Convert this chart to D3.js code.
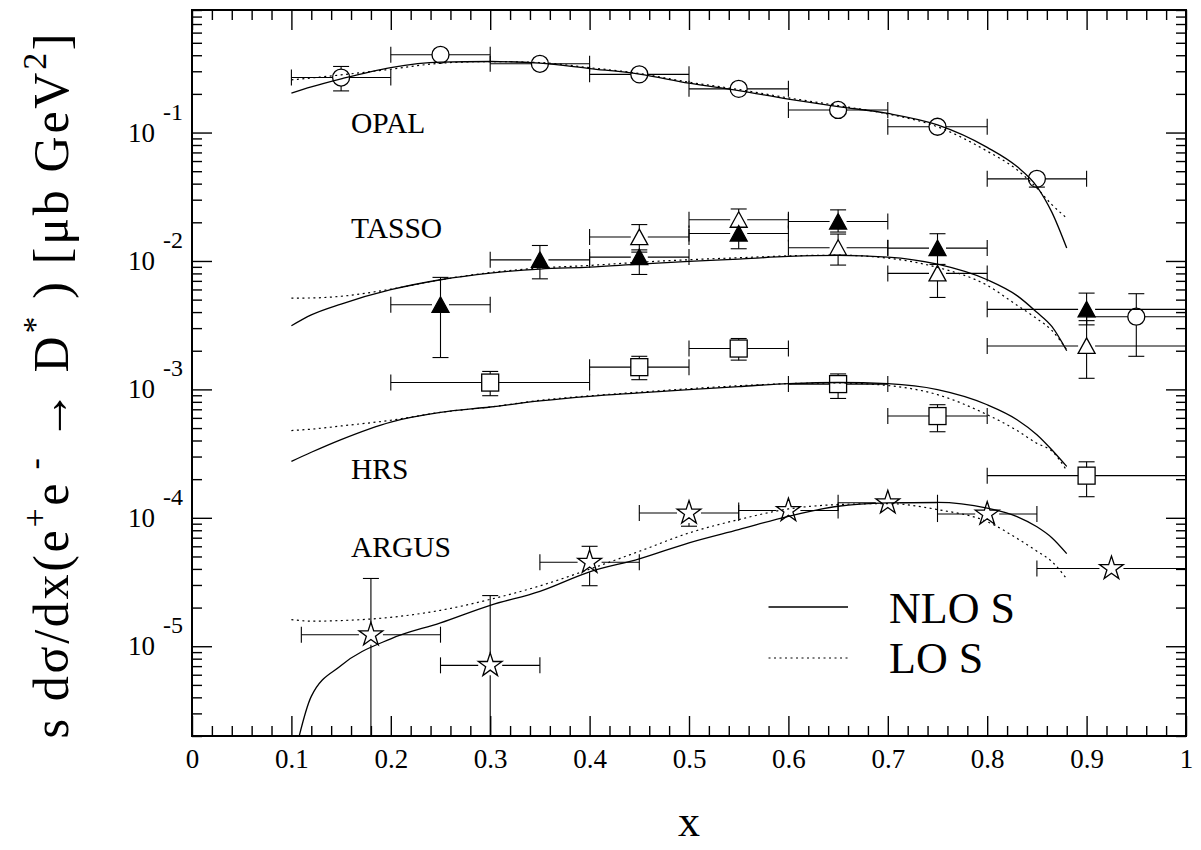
<!DOCTYPE html>
<html>
<head>
<meta charset="utf-8">
<script src="https://cdn.jsdelivr.net/npm/d3@7"></script>
<style>
  body { margin: 0; background: #fff; }
  text { font-family: "Liberation Serif", "Times New Roman", serif; fill: #000; }
</style>
</head>
<body>
<svg id="chart" width="1201" height="850"></svg>
<script>
// theory curves, sampled in x
var curveX   = [0.10, 0.12, 0.15, 0.20, 0.25, 0.30, 0.35, 0.40, 0.45, 0.50, 0.55, 0.60, 0.65, 0.70, 0.75, 0.80, 0.83, 0.85, 0.865, 0.88];
var opalNLO  = [0.2028, 0.2265, 0.2618, 0.3206, 0.3532, 0.3573, 0.3467, 0.3148, 0.2851, 0.2421, 0.2123, 0.1820, 0.1592, 0.1409, 0.1148, 0.0767, 0.0543, 0.0380, 0.0240, 0.0126];
var opalLO   = [0.2570, 0.2661, 0.2812, 0.3112, 0.3467, 0.3573, 0.3508, 0.3199, 0.2884, 0.2466, 0.2163, 0.1862, 0.1622, 0.1396, 0.1109, 0.0716, 0.0513, 0.0369, 0.0275, 0.0216];
var tassoNLO = [0.00313, 0.00380, 0.00462, 0.00597, 0.00714, 0.00805, 0.00865, 0.00895, 0.00944, 0.00991, 0.01035, 0.01084, 0.01104, 0.01072, 0.00944, 0.00714, 0.00537, 0.00398, 0.00309, 0.00200];
var tassoLO  = [0.00514, 0.00515, 0.00531, 0.00603, 0.00714, 0.00813, 0.00881, 0.00923, 0.00977, 0.01023, 0.01059, 0.01096, 0.01109, 0.01052, 0.00891, 0.00646, 0.00452, 0.00355, 0.00288, 0.00204];
var hrsNLO   = [0.000275, 0.000324, 0.000407, 0.000557, 0.000662, 0.000729, 0.000813, 0.000883, 0.000938, 0.000995, 0.001052, 0.001107, 0.001132, 0.001107, 0.000995, 0.000759, 0.000581, 0.000444, 0.000339, 0.000251];
var hrsLO    = [0.000478, 0.000490, 0.000519, 0.000575, 0.000662, 0.000729, 0.000822, 0.000891, 0.000951, 0.001012, 0.001067, 0.001109, 0.001122, 0.001072, 0.000910, 0.000635, 0.000479, 0.000380, 0.000331, 0.000234];
var argusNLO = [1.1e-6, 4.07e-6, 7.08e-6, 1.143e-5, 1.521e-5, 2.084e-5, 2.679e-5, 3.80e-5, 4.786e-5, 6.383e-5, 8.091e-5, 1.028e-4, 1.230e-4, 1.306e-4, 1.321e-4, 1.189e-4, 1.023e-4, 8.51e-5, 7.0e-5, 5.26e-5];
var argusLO  = [1.614e-5, 1.567e-5, 1.585e-5, 1.679e-5, 1.905e-5, 2.317e-5, 2.951e-5, 3.981e-5, 5.483e-5, 7.621e-5, 9.683e-5, 1.172e-4, 1.268e-4, 1.291e-4, 1.159e-4, 9.33e-5, 6.92e-5, 5.50e-5, 4.57e-5, 3.35e-5];

// OPAL (open circles)
var opalX   = [0.15, 0.25, 0.35, 0.45, 0.55, 0.65, 0.75, 0.85];
var opalXLo = [0.10, 0.20, 0.30, 0.40, 0.50, 0.60, 0.70, 0.80];
var opalXHi = [0.20, 0.30, 0.40, 0.50, 0.60, 0.70, 0.80, 0.90];
var opalY   = [0.268, 0.403, 0.343, 0.284, 0.219, 0.150, 0.111, 0.0436];
var opalYLo = [0.211, null, null, null, null, null, null, 0.0376];
var opalYHi = [0.327, null, null, null, null, null, null, null];

// TASSO (filled triangles)
var tassoAX   = [0.25, 0.35, 0.45, 0.55, 0.65, 0.75, 0.90];
var tassoAXLo = [0.20, 0.30, 0.40, 0.50, 0.60, 0.70, 0.80];
var tassoAXHi = [0.30, 0.40, 0.50, 0.60, 0.70, 0.80, 1.00];
var tassoAY   = [0.00456, 0.0102, 0.01072, 0.01637, 0.0203, 0.01259, 0.0042];
var tassoAYLo = [0.00177, 0.00726, 0.00785, 0.01245, 0.0168, 0.0094, 0.00318];
var tassoAYHi = [0.00745, 0.0132, 0.01172, null, 0.0250, 0.0163, 0.00562];

// TASSO (open triangles)
var tassoBX   = [0.45, 0.55, 0.65, 0.75, 0.90];
var tassoBXLo = [0.40, 0.50, 0.60, 0.70, 0.80];
var tassoBXHi = [0.50, 0.60, 0.70, 0.80, 1.00];
var tassoBY   = [0.01535, 0.02094, 0.01267, 0.0080, 0.00218];
var tassoBYLo = [0.0122, null, 0.00929, 0.0052, 0.00122];
var tassoBYHi = [0.0192, 0.0254, 0.0162, null, 0.00343];

// TASSO (open circle, x = 0.95)
var tassoCX   = [0.95];
var tassoCXLo = [0.90];
var tassoCXHi = [1.00];
var tassoCY   = [0.00368];
var tassoCYLo = [0.00181];
var tassoCYHi = [0.00556];

// HRS (open squares)
var hrsX   = [0.30, 0.45, 0.55, 0.65, 0.75, 0.90];
var hrsXLo = [0.20, 0.40, 0.50, 0.60, 0.70, 0.80];
var hrsXHi = [0.40, 0.50, 0.60, 0.70, 0.80, 1.00];
var hrsY   = [0.00113, 0.00149, 0.00208, 0.00110, 0.00062, 0.000213];
var hrsYLo = [0.000893, 0.00119, 0.00169, 0.00085, 0.000468, 0.000146];
var hrsYHi = [0.00138, 0.00181, 0.00249, 0.00132, 0.00076, 0.000273];

// ARGUS (open stars)
var argusX   = [0.18, 0.30, 0.40, 0.50, 0.60, 0.70, 0.80, 0.925];
var argusXLo = [0.11, 0.25, 0.35, 0.45, 0.55, 0.65, 0.75, 0.85];
var argusXHi = [0.25, 0.35, 0.45, 0.55, 0.65, 0.75, 0.85, 1.00];
var argusY   = [1.23e-5, 7.1e-6, 4.51e-5, 1.09e-4, 1.14e-4, 1.31e-4, 1.07e-4, 4.03e-5];
var argusYLo = [1e-7, 1e-7, 2.96e-5, 8.6e-5, null, null, null, null];
var argusYHi = [3.37e-5, 2.48e-5, 6.0e-5, null, null, null, null, null];

var xMajor = [0, 0.1, 0.2, 0.3, 0.4, 0.5, 0.6, 0.7, 0.8, 0.9, 1];
var decades = [1e-5, 1e-4, 1e-3, 1e-2, 1e-1];
var decadeExp = ["-5", "-4", "-3", "-2", "-1"];
var expLabels = ["OPAL", "TASSO", "HRS", "ARGUS"];

var svg = d3.select("#chart"),
    margin = {top: 10, right: 15, bottom: 114, left: 192},
    width = +svg.attr("width") - margin.left - margin.right,
    height = +svg.attr("height") - margin.top - margin.bottom;

var x = d3.scaleLinear().domain([0, 1]).range([0, width]);
var y = d3.scaleLog().domain([2e-6, 0.9]).range([height, 0]);

var g = svg.append("g")
    .attr("transform", "translate(" + margin.left + "," + margin.top + ")");

svg.append("defs").append("clipPath").attr("id", "plotClip")
  .append("rect").attr("x", margin.left).attr("y", margin.top)
  .attr("width", width).attr("height", height);

var xMinor = d3.range(51).map(function(i){ return i / 50; })
  .filter(function(d, i){ return i % 5 != 0; });
var yMinor = y.ticks().filter(function(d){
  return Math.abs(Math.log10(d) - Math.round(Math.log10(d))) > 1e-6;
});

function styleAxis(sel){
  sel.select(".domain").remove();
  sel.selectAll("line").attr("stroke", "#000").attr("stroke-width", 1.4);
}

// bottom axis with labels
var bottom = g.append("g").attr("transform", "translate(0," + height + ")")
  .call(d3.axisBottom(x).tickValues(xMajor).tickSize(-20)
    .tickFormat(function(d){ return (d === 0 || d === 1) ? String(d) : d.toFixed(1); }));
styleAxis(bottom);
bottom.selectAll("text").attr("y", 32).attr("dy", 0)
  .style("font-family", "'Liberation Serif', serif").style("font-size", "27px");
styleAxis(g.append("g").attr("transform", "translate(0," + height + ")")
  .call(d3.axisBottom(x).tickValues(xMinor).tickSize(-10).tickFormat("")));

// top axis (mirrored ticks)
styleAxis(g.append("g").call(d3.axisTop(x).tickValues(xMajor).tickSize(-20).tickFormat("")));
styleAxis(g.append("g").call(d3.axisTop(x).tickValues(xMinor).tickSize(-10).tickFormat("")));

// left and right y axes
styleAxis(g.append("g").call(d3.axisLeft(y).tickValues(decades).tickSize(-20).tickFormat("")));
styleAxis(g.append("g").call(d3.axisLeft(y).tickValues(yMinor).tickSize(-10).tickFormat("")));
styleAxis(g.append("g").attr("transform", "translate(" + width + ",0)")
  .call(d3.axisRight(y).tickValues(decades).tickSize(-20).tickFormat("")));
styleAxis(g.append("g").attr("transform", "translate(" + width + ",0)")
  .call(d3.axisRight(y).tickValues(yMinor).tickSize(-10).tickFormat("")));

// y tick labels 10^n
decades.forEach(function(v, i){
  g.append("text").attr("x", -37).attr("y", y(v) + 9)
    .attr("text-anchor", "end").style("font-size", "27px").text("10");
  g.append("text").attr("x", -29).attr("y", y(v) - 13)
    .attr("text-anchor", "start").style("font-size", "24px").text(decadeExp[i]);
});

// frame
g.append("rect").attr("width", width).attr("height", height)
  .attr("fill", "none").attr("stroke", "#000").attr("stroke-width", 2);

// curves
var plot = svg.append("g").attr("clip-path", "url(#plotClip)")
  .append("g").attr("transform", "translate(" + margin.left + "," + margin.top + ")");

var line = d3.line()
  .curve(d3.curveMonotoneX)
  .x(function(d){ return x(d[0]); })
  .y(function(d){ return y(d[1]); });

function drawCurve(vals, dotted){
  plot.append("path")
    .datum(curveX.map(function(cx, i){ return [cx, vals[i]]; }))
    .attr("d", line)
    .attr("fill", "none")
    .attr("stroke", "#000")
    .attr("stroke-width", dotted ? 1.2 : 1.3)
    .attr("stroke-dasharray", dotted ? "2,3.5" : null);
}

// markers
var shapes = {
  circle:   {hw: 8.5, top: 8.5, bot: 8.5},
  triangle: {hw: 8.5, top: 8, bot: 7.5},
  square:   {hw: 8.5, top: 8.5, bot: 8.5},
  star:     {hw: 12, top: 12, bot: 10}
};

function drawPoints(xs, xlo, xhi, ys, ylo, yhi, shape, filled){
  var s = shapes[shape], cap = 8;
  var eb = plot.append("g").attr("stroke", "#000").attr("stroke-width", 1.1);
  for (var i = 0; i < xs.length; i++){
    var px = x(xs[i]), py = y(ys[i]);
    // horizontal bars
    var l = x(xlo[i]), r = x(xhi[i]);
    if (l < px - s.hw) eb.append("line").attr("x1", l).attr("x2", px - s.hw).attr("y1", py).attr("y2", py);
    if (r > px + s.hw) eb.append("line").attr("x1", px + s.hw).attr("x2", r).attr("y1", py).attr("y2", py);
    eb.append("line").attr("x1", l).attr("x2", l).attr("y1", py - cap).attr("y2", py + cap);
    eb.append("line").attr("x1", r).attr("x2", r).attr("y1", py - cap).attr("y2", py + cap);
    // vertical bars
    if (yhi[i] != null){
      var t = y(yhi[i]);
      if (t < py - s.top) eb.append("line").attr("x1", px).attr("x2", px).attr("y1", t).attr("y2", py - s.top);
      eb.append("line").attr("x1", px - cap).attr("x2", px + cap).attr("y1", t).attr("y2", t);
    }
    if (ylo[i] != null){
      var b = y(ylo[i]);
      if (b > py + s.bot) eb.append("line").attr("x1", px).attr("x2", px).attr("y1", py + s.bot).attr("y2", b);
      eb.append("line").attr("x1", px - cap).attr("x2", px + cap).attr("y1", b).attr("y2", b);
    }
  }
  var mk = plot.append("g").selectAll(".mk").data(xs).enter();
  var fill = filled ? "#000" : "none";
  var m;
  if (shape == "circle"){
    m = mk.append("circle").attr("r", 8.5)
      .attr("cx", function(d){ return x(d); })
      .attr("cy", function(d, i){ return y(ys[i]); });
  } else if (shape == "square"){
    m = mk.append("rect").attr("width", 17).attr("height", 17)
      .attr("x", function(d){ return x(d) - 8.5; })
      .attr("y", function(d, i){ return y(ys[i]) - 8.5; });
  } else if (shape == "triangle"){
    m = mk.append("path").attr("d", "M0,-8L8.5,7.5L-8.5,7.5Z")
      .attr("transform", function(d, i){ return "translate(" + x(d) + "," + y(ys[i]) + ")"; });
  } else {
    m = mk.append("path").attr("d", d3.symbol(d3.symbolStar, 175)())
      .attr("transform", function(d, i){ return "translate(" + x(d) + "," + y(ys[i]) + ")"; });
  }
  m.attr("fill", fill).attr("stroke", "#000").attr("stroke-width", 1.3);
}

drawPoints(opalX, opalXLo, opalXHi, opalY, opalYLo, opalYHi, "circle", false);
drawPoints(tassoAX, tassoAXLo, tassoAXHi, tassoAY, tassoAYLo, tassoAYHi, "triangle", true);
drawPoints(tassoBX, tassoBXLo, tassoBXHi, tassoBY, tassoBYLo, tassoBYHi, "triangle", false);
drawPoints(tassoCX, tassoCXLo, tassoCXHi, tassoCY, tassoCYLo, tassoCYHi, "circle", false);
drawPoints(hrsX, hrsXLo, hrsXHi, hrsY, hrsYLo, hrsYHi, "square", false);
drawPoints(argusX, argusXLo, argusXHi, argusY, argusYLo, argusYHi, "star", false);

drawCurve(opalNLO, false);  drawCurve(opalLO, true);
drawCurve(tassoNLO, false); drawCurve(tassoLO, true);
drawCurve(hrsNLO, false);   drawCurve(hrsLO, true);
drawCurve(argusNLO, false); drawCurve(argusLO, true);

// experiment labels
var labelY = [0.1, 0.0151, 2.0e-4, 4.97e-5];
expLabels.forEach(function(t, i){
  g.append("text").attr("x", x(0.16)).attr("y", y(labelY[i]))
    .style("font-size", "29.5px").text(t);
});

// legend
var legend = g.append("g");
legend.append("line").attr("x1", x(0.58)).attr("x2", x(0.66))
  .attr("y1", 597).attr("y2", 597).attr("stroke", "#000").attr("stroke-width", 1.3);
legend.append("line").attr("x1", x(0.58)).attr("x2", x(0.66))
  .attr("y1", 648).attr("y2", 648).attr("stroke", "#000").attr("stroke-width", 1.2)
  .attr("stroke-dasharray", "2,3.5");
legend.append("text").attr("x", 697).attr("y", 613).style("font-size", "44px").text("NLO S");
legend.append("text").attr("x", 697).attr("y", 663).style("font-size", "44px").text("LO S");

// axis titles
svg.append("text").attr("x", 689).attr("y", 836).attr("text-anchor", "middle")
  .style("font-size", "44px").text("x");

var yt = svg.append("text")
  .attr("transform", "translate(68,386) rotate(-90)")
  .attr("text-anchor", "middle")
  .attr("textLength", 705)
  .attr("lengthAdjust", "spacing")
  .style("font-size", "50px");
yt.append("tspan").text("s d\u03c3/dx(e");
yt.append("tspan").attr("dy", -22).style("font-size", "34px").text("+");
yt.append("tspan").attr("dy", 22).text("e");
yt.append("tspan").attr("dy", -22).style("font-size", "34px").text(" -");
yt.append("tspan").attr("dy", 22).text(" \u2192 D");
yt.append("tspan").attr("dy", -22).style("font-size", "34px").text("*");
yt.append("tspan").attr("dy", 22).text(" ) [\u03bcb GeV");
yt.append("tspan").attr("dy", -22).style("font-size", "34px").text("2");
yt.append("tspan").attr("dy", 22).text("]");
</script>
</body>
</html>
